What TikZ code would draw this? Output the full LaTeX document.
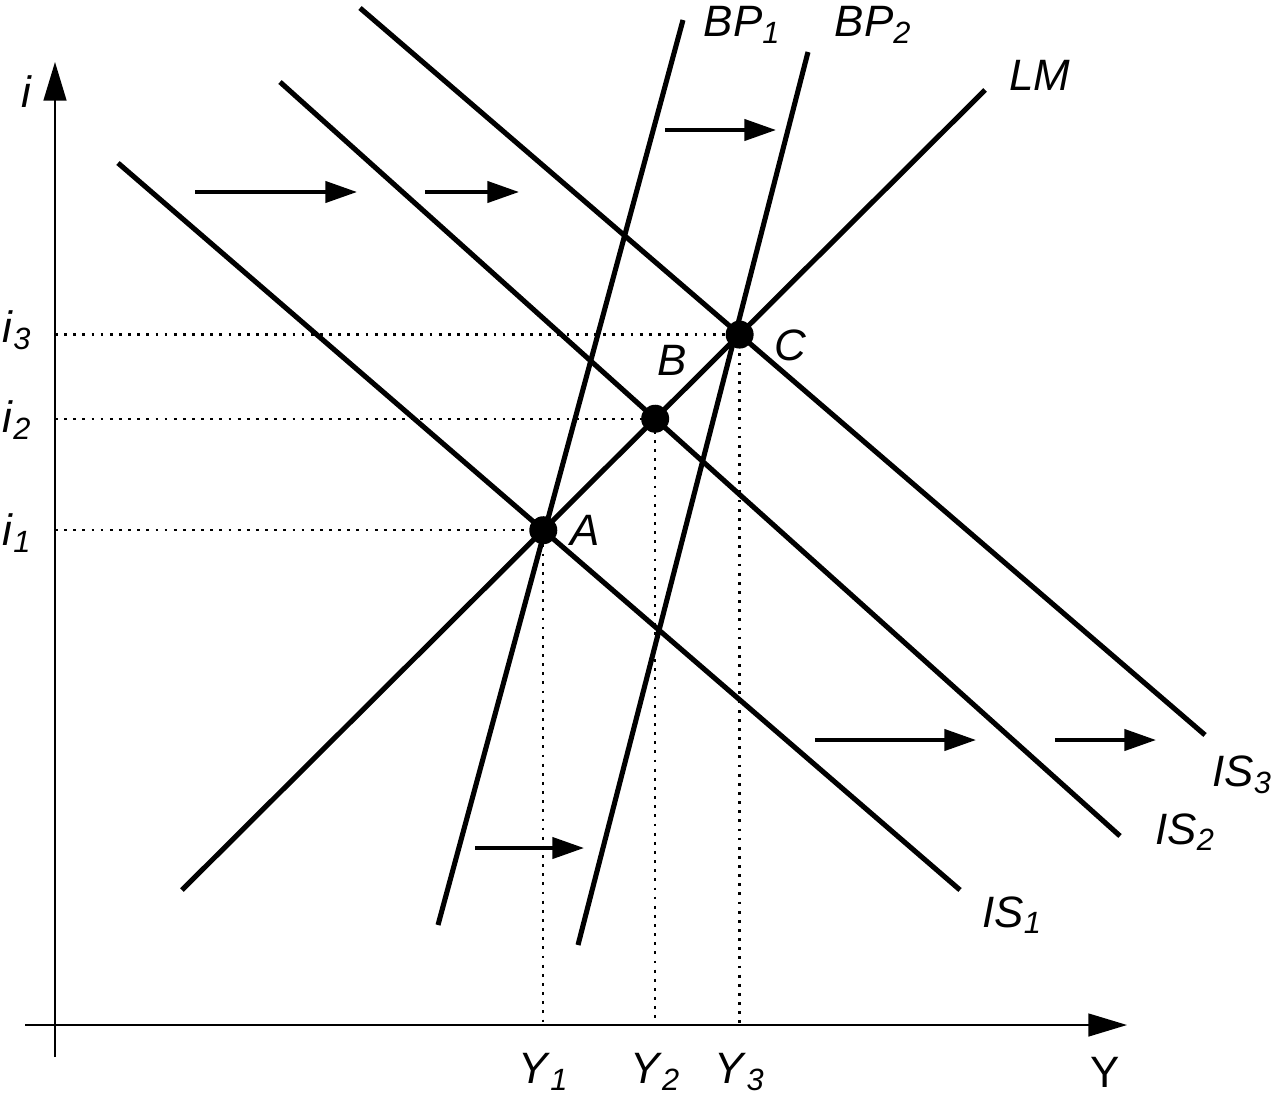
\documentclass[tikz,border=0pt]{standalone}
\usepackage{fontspec}
\setmainfont{Liberation Sans}
\usetikzlibrary{arrows.meta}

\newcommand{\curvename}[2]{\textit{#1}\textsubscript{\textit{#2}}}

\begin{document}
\begin{tikzpicture}[x=0.02cm,y=-0.02cm,
    >={Triangle[length=18pt,width=12pt]},
    curve/.style={line width=2.9pt},
    axis/.style={line width=1.1pt,-{Triangle[length=22pt,width=13pt]}},
    guide/.style={line width=1.3pt,dash pattern=on 1.6pt off 3.6pt},
    moveline/.style={line width=2.2pt,->},
    point/.style={circle,fill=black,inner sep=0pt,minimum size=0.56cm},
    lbl/.style={font=\fontsize{25}{29}\selectfont}]
  \useasboundingbox (0,0) rectangle (1280,1112);

  % axes
  \coordinate (ybot) at (55,1057);
  \coordinate (ytop) at (55,62);
  \coordinate (xleft) at (25,1025);
  \coordinate (xright) at (1127,1025);
  \draw[axis] (ybot) -- (ytop);
  \draw[axis] (xleft) -- (xright);
  \node[lbl] (ilabel) at (27,92) {\textit{i}};
  \node[lbl] (ylabel) at (1105,1072) {Y};

  % curve ends
  \coordinate (is1a) at (118,163);  \coordinate (is1b) at (960,890);
  \coordinate (is2a) at (280,82);   \coordinate (is2b) at (1120,836);
  \coordinate (is3a) at (360,8);    \coordinate (is3b) at (1205,735);
  \coordinate (lma) at (182,890);   \coordinate (lmb) at (985,90);
  \coordinate (bp1a) at (438,925);  \coordinate (bp1b) at (683,20);
  \coordinate (bp2a) at (578,945);  \coordinate (bp2b) at (808,52);

  % equilibria
  \coordinate (A) at (intersection of is1a--is1b and lma--lmb);
  \coordinate (B) at (intersection of is2a--is2b and lma--lmb);
  \coordinate (C) at (intersection of is3a--is3b and lma--lmb);

  % guides
  \draw[guide] (ytop |- A) -- (A) -- (A |- xleft);
  \draw[guide] (ytop |- B) -- (B) -- (B |- xleft);
  \draw[guide] (ytop |- C) -- (C) -- (C |- xleft);

  % curves
  \draw[curve] (is1a) -- (is1b);
  \draw[curve] (is2a) -- (is2b);
  \draw[curve] (is3a) -- (is3b);
  \draw[curve] (lma) -- (lmb);
  \draw[curve] (bp1a) -- (bp1b);
  \draw[curve] (bp2a) -- (bp2b);

  \node[point] (ptA) at (A) {};
  \node[point] (ptB) at (B) {};
  \node[point] (ptC) at (C) {};

  % labels
  \node[lbl] (labA) at (585,530) {\textit{A}};
  \node[lbl] (labB) at (672,360) {\textit{B}};
  \node[lbl] (labC) at (790,345) {\textit{C}};
  \node[lbl] (labIS1) at (1012,915) {\curvename{IS}{1}};
  \node[lbl] (labIS2) at (1185,832) {\curvename{IS}{2}};
  \node[lbl] (labIS3) at (1242,775) {\curvename{IS}{3}};
  \node[lbl] (labLM) at (1040,75) {\textit{LM}};
  \node[lbl] (labBP1) at (742,25) {\curvename{BP}{1}};
  \node[lbl] (labBP2) at (873,25) {\curvename{BP}{2}};
  \node[lbl] (labi1) at (17,533) {\curvename{i}{1}};
  \node[lbl] (labi2) at (17,420) {\curvename{i}{2}};
  \node[lbl] (labi3) at (17,330) {\curvename{i}{3}};
  \node[lbl] (labY1) at (A |- ylabel) {\curvename{Y}{1}};
  \node[lbl] (labY2) at (B |- ylabel) {\curvename{Y}{2}};
  \node[lbl] (labY3) at (C |- ylabel) {\curvename{Y}{3}};

  % shifts
  \coordinate (s1a) at (195,192);  \coordinate (s1b) at (357,192);
  \coordinate (s2a) at (425,192);  \coordinate (s2b) at (519,192);
  \coordinate (s3a) at (665,130);  \coordinate (s3b) at (776,130);
  \coordinate (s4a) at (815,740);  \coordinate (s4b) at (976,740);
  \coordinate (s5a) at (1055,740); \coordinate (s5b) at (1156,740);
  \coordinate (s6a) at (475,848);  \coordinate (s6b) at (584,848);
  \draw[moveline] (s1a) -- (s1b);
  \draw[moveline] (s2a) -- (s2b);
  \draw[moveline] (s3a) -- (s3b);
  \draw[moveline] (s4a) -- (s4b);
  \draw[moveline] (s5a) -- (s5b);
  \draw[moveline] (s6a) -- (s6b);
\end{tikzpicture}
\end{document}
